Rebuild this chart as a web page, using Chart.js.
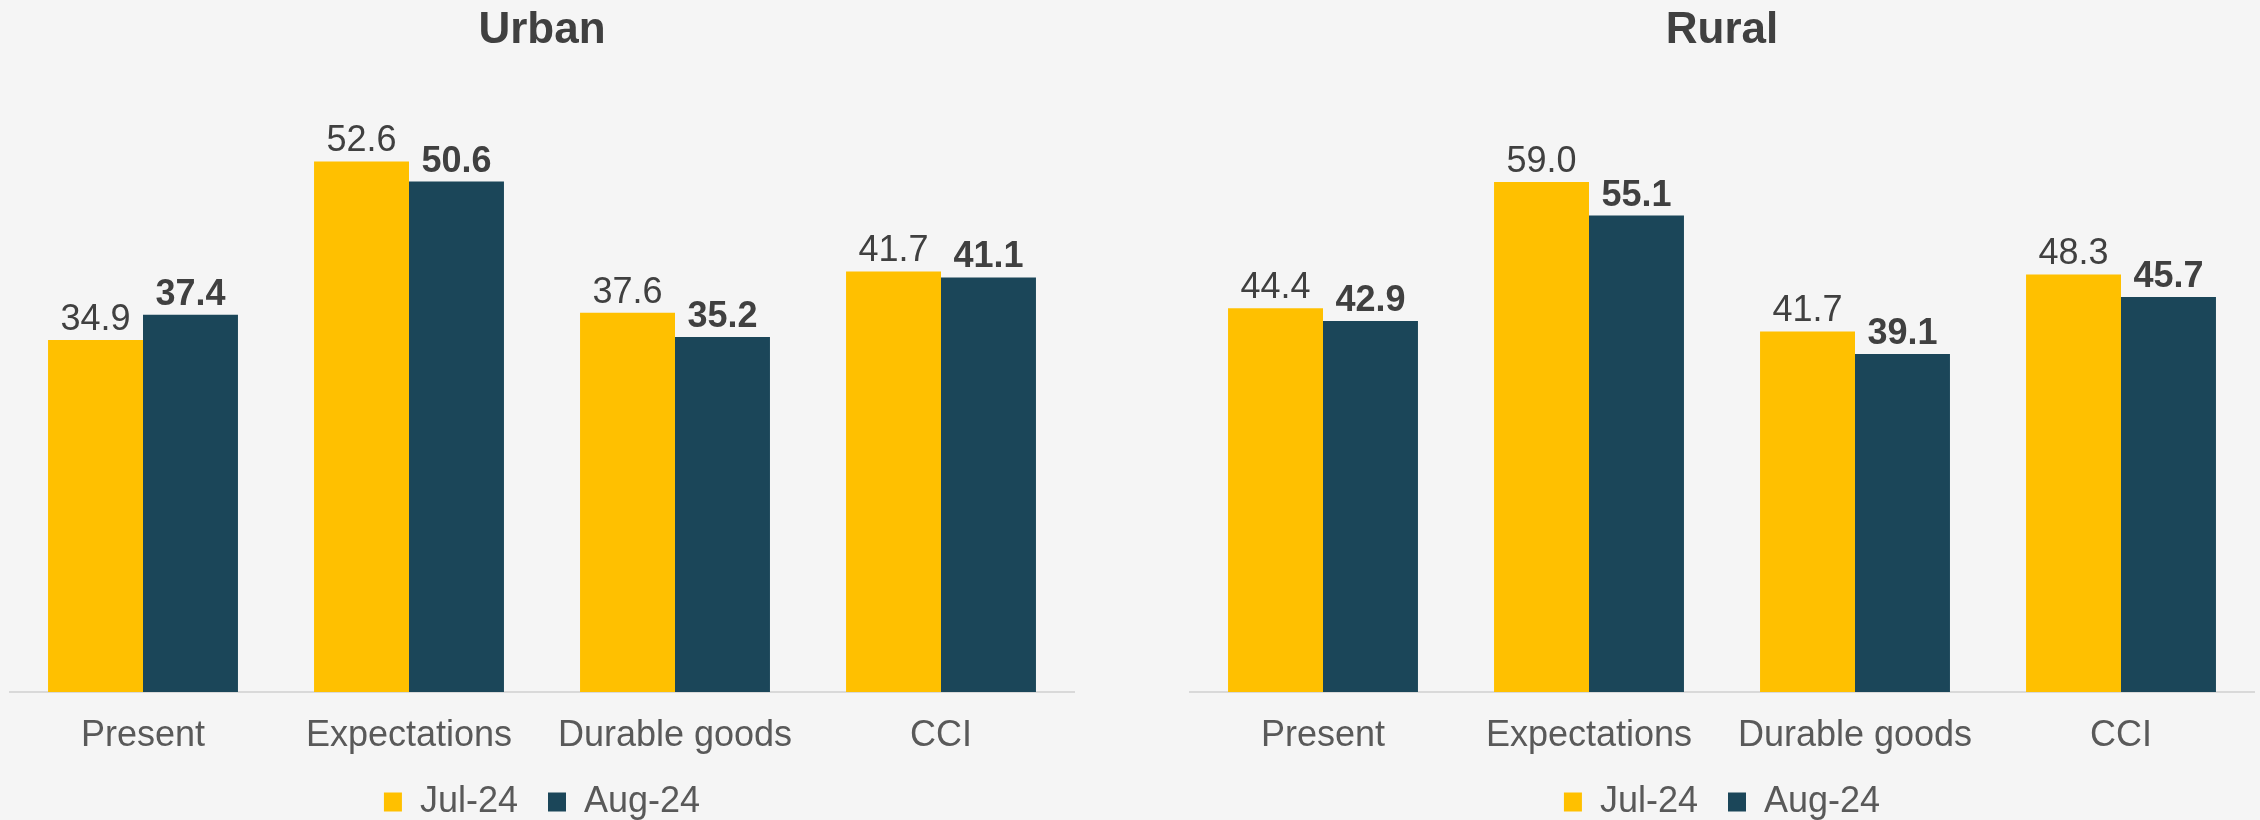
<!DOCTYPE html>
<html>
<head>
<meta charset="utf-8">
<title>Urban / Rural CCI</title>
<script src="https://cdn.jsdelivr.net/npm/chart.js@4/dist/chart.umd.min.js"></script>
<style>
    html, body { margin: 0; padding: 0; background: #f5f5f5; overflow: hidden; }
    .panel { position: absolute; top: 0; width: 1130px; height: 830px; }
    #urbanPanel { left: 0; }
    #ruralPanel { left: 1130px; }
</style>
</head>
<body>
<div class="panel" id="urbanPanel"><canvas id="urbanChart" width="1130" height="830"></canvas></div>
<div class="panel" id="ruralPanel"><canvas id="ruralChart" width="1130" height="830"></canvas></div>

<script>
/* Consumer confidence sub-indices, urban vs rural, two survey months */

var categories = ['Present', 'Expectations', 'Durable goods', 'CCI'];
var seriesNames = ['Jul-24', 'Aug-24'];

var urbanJul = [34.9, 52.6, 37.6, 41.7];
var urbanAug = [37.4, 50.6, 35.2, 41.1];

var ruralJul = [44.4, 59.0, 41.7, 48.3];
var ruralAug = [42.9, 55.1, 39.1, 45.7];

var urbanMax = 60;
var ruralMax = 70;

(function () {
    'use strict';

    var FONT = '"Liberation Sans", Arial, sans-serif';
    var JUL_COLOR = '#ffc000';
    var AUG_COLOR = '#1b4659';

    // Value above each bar; the later month is bold
    var barValueLabels = {
        id: 'barValueLabels',
        afterDatasetsDraw: function (chart) {
            var ctx = chart.ctx;
            chart.data.datasets.forEach(function (ds, di) {
                var meta = chart.getDatasetMeta(di);
                ctx.save();
                ctx.font = (di === 1 ? 'bold ' : '') + '36px ' + FONT;
                ctx.fillStyle = '#404040';
                ctx.textAlign = 'center';
                ctx.textBaseline = 'alphabetic';
                meta.data.forEach(function (bar, i) {
                    ctx.fillText(ds.data[i].toFixed(1), bar.x, bar.y - 10);
                });
                ctx.restore();
            });
        }
    };

    function buildChart(canvasId, title, jul, aug, yMax, padLeft, padRight) {
        var ctx = document.getElementById(canvasId).getContext('2d');
        return new Chart(ctx, {
            type: 'bar',
            data: {
                labels: categories,
                datasets: [
                    { label: seriesNames[0], data: jul, backgroundColor: JUL_COLOR },
                    { label: seriesNames[1], data: aug, backgroundColor: AUG_COLOR }
                ]
            },
            options: {
                responsive: false,
                animation: false,
                devicePixelRatio: 1,
                layout: { padding: { left: padLeft, right: padRight, top: 0, bottom: 0 } },
                datasets: {
                    bar: { categoryPercentage: 0.714, barPercentage: 1.0 }
                },
                plugins: {
                    title: {
                        display: true,
                        text: title,
                        color: '#404040',
                        font: { family: FONT, size: 44, weight: 'bold' },
                        padding: { top: 4, bottom: 30 }
                    },
                    legend: {
                        display: true,
                        position: 'bottom',
                        labels: {
                            color: '#595959',
                            font: { family: FONT, size: 36 },
                            boxWidth: 18,
                            boxHeight: 19,
                            padding: 30
                        }
                    },
                    tooltip: { enabled: false }
                },
                scales: {
                    x: {
                        grid: { display: false, drawTicks: false },
                        border: { display: true, color: '#d9d9d9', width: 2 },
                        ticks: {
                            color: '#595959',
                            font: { family: FONT, size: 36 },
                            padding: 22,
                            maxRotation: 0,
                            autoSkip: false
                        },
                        afterFit: function (scale) { scale.height = 62; }
                    },
                    y: {
                        display: false,
                        min: 0,
                        max: yMax
                    }
                }
            },
            plugins: [barValueLabels]
        });
    }

    buildChart('urbanChart', 'Urban', urbanJul, urbanAug, urbanMax, 10, 56);
    buildChart('ruralChart', 'Rural', ruralJul, ruralAug, ruralMax, 60, 6);
})();
</script>
</body>
</html>
